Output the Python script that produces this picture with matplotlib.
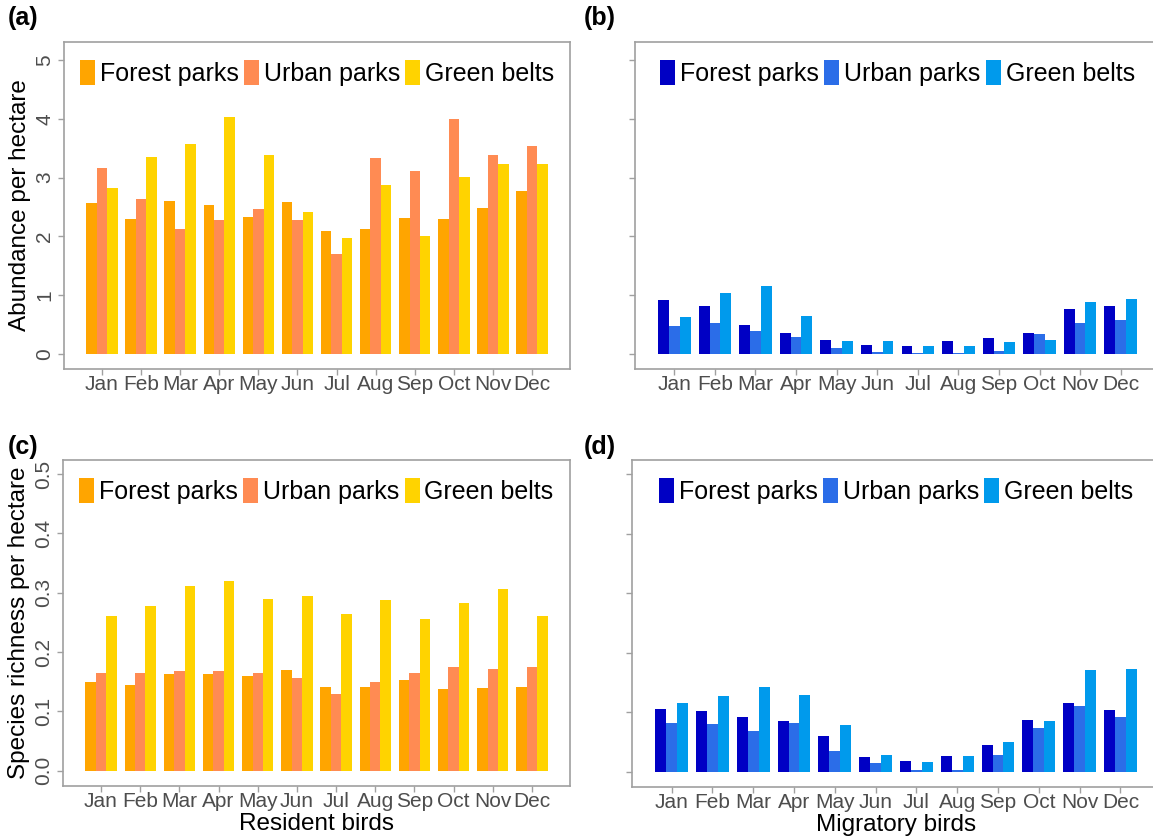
import matplotlib
matplotlib.use("Agg")
import matplotlib.pyplot as plt
import numpy as np

plt.rcParams['font.family'] = ['Liberation Sans', 'DejaVu Sans']

months = ["Jan", "Feb", "Mar", "Apr", "May", "Jun", "Jul", "Aug", "Sep", "Oct", "Nov", "Dec"]
sites = ["Forest parks", "Urban parks", "Green belts"]

# (a) Resident birds - abundance per hectare
res_abund_forest = [2.56, 2.30, 2.61, 2.53, 2.33, 2.59, 2.09, 2.12, 2.32, 2.29, 2.49, 2.78]
res_abund_urban = [3.16, 2.63, 2.13, 2.28, 2.46, 2.28, 1.70, 3.34, 3.11, 3.99, 3.38, 3.54]
res_abund_green = [2.83, 3.35, 3.58, 4.04, 3.39, 2.42, 1.97, 2.88, 2.00, 3.01, 3.24, 3.23]

# (b) Migratory birds - abundance per hectare
mig_abund_forest = [0.91, 0.81, 0.49, 0.36, 0.23, 0.15, 0.13, 0.21, 0.27, 0.36, 0.76, 0.81]
mig_abund_urban = [0.48, 0.52, 0.38, 0.29, 0.09, 0.03, 0.02, 0.005, 0.04, 0.34, 0.53, 0.58]
mig_abund_green = [0.62, 1.04, 1.16, 0.65, 0.21, 0.21, 0.13, 0.13, 0.20, 0.24, 0.88, 0.94]

# (c) Resident birds - species richness per hectare
res_rich_forest = [0.149, 0.144, 0.163, 0.163, 0.160, 0.169, 0.141, 0.141, 0.152, 0.138, 0.139, 0.141]
res_rich_urban = [0.165, 0.165, 0.168, 0.168, 0.165, 0.157, 0.130, 0.150, 0.165, 0.175, 0.172, 0.174]
res_rich_green = [0.260, 0.278, 0.311, 0.320, 0.289, 0.295, 0.264, 0.288, 0.255, 0.282, 0.307, 0.261]

# (d) Migratory birds - species richness per hectare
mig_rich_forest = [0.106, 0.102, 0.091, 0.085, 0.059, 0.025, 0.018, 0.026, 0.044, 0.087, 0.115, 0.104]
mig_rich_urban = [0.081, 0.080, 0.069, 0.081, 0.034, 0.015, 0.003, 0.003, 0.028, 0.073, 0.111, 0.092]
mig_rich_green = [0.116, 0.127, 0.142, 0.128, 0.078, 0.027, 0.016, 0.026, 0.050, 0.085, 0.170, 0.172]

warm_colors = ["#FFA500", "#FF8B53", "#FFD300"]
cool_colors = ["#0000C4", "#2B6DE8", "#009AEC"]

W, H = 1153, 836
fig = plt.figure(figsize=(W / 100, H / 100), dpi=100)


def ax_at(left, top, right, bottom):
    return fig.add_axes([left / W, 1 - bottom / H, (right - left) / W, (bottom - top) / H])


tick_grey = "#4D4D4D"
frame_grey = "#A0A0A0"


def panel(ax, series, colors, ylim, yticks, show_ylabels, ylabel=None, xlabel=None, ytickfmt=None):
    x = np.arange(len(months))
    bw = 0.8 / 3
    for i, (vals, c, name) in enumerate(zip(series, colors, sites)):
        ax.bar(x + (i - 1) * bw, vals, width=bw, color=c, label=name, linewidth=0)
    ax.set_xlim(-0.97, 11.97)
    ax.set_ylim(*ylim)
    ax.set_xticks(x)
    ax.set_xticklabels(months)
    ax.set_yticks(yticks)
    if show_ylabels:
        ax.set_yticklabels([ytickfmt(v) for v in yticks])
        plt.setp(ax.get_yticklabels(), rotation=90, va="center")
    else:
        ax.set_yticklabels([])
    for s in ax.spines.values():
        s.set_color(frame_grey)
        s.set_linewidth(1.2)
    ax.tick_params(axis="both", colors=frame_grey, labelcolor=tick_grey, labelsize=15,
                   length=4, width=1, direction="out", pad=3)
    ax.tick_params(axis="x", pad=0.5)
    if ylabel:
        ax.set_ylabel(ylabel, fontsize=17.5, color="black", labelpad=3)
    if xlabel:
        ax.set_xlabel(xlabel, fontsize=17.5, color="black")
        ax.xaxis.set_label_coords(0.5, -(830 - 786) / 326.0, transform=ax.transAxes)
        ax.xaxis.label.set_va("baseline")
    ax.legend(loc="upper center", ncol=3, frameon=False, fontsize=18,
              handlelength=0.6, handleheight=1.2, handletextpad=0.2,
              columnspacing=0.2, borderaxespad=0.3, bbox_to_anchor=(0.5, 1.0))
    return ax


ax_a = ax_at(64, 42, 570, 369)
panel(ax_a, [res_abund_forest, res_abund_urban, res_abund_green], warm_colors,
      (-0.26, 5.31), [0, 1, 2, 3, 4, 5], True, ylabel="Abundance per hectare",
      ytickfmt=lambda v: f"{v:d}")

ax_b = ax_at(635, 42, 1160, 369)
panel(ax_b, [mig_abund_forest, mig_abund_urban, mig_abund_green], cool_colors,
      (-0.26, 5.31), [0, 1, 2, 3, 4, 5], False)

ax_c = ax_at(63, 460, 570, 786)
panel(ax_c, [res_rich_forest, res_rich_urban, res_rich_green], warm_colors,
      (-0.026, 0.524), [0.0, 0.1, 0.2, 0.3, 0.4, 0.5], True,
      ylabel="Species richness per hectare", xlabel="Resident birds",
      ytickfmt=lambda v: f"{v:.1f}")

ax_d = ax_at(632, 460, 1160, 787)
panel(ax_d, [mig_rich_forest, mig_rich_urban, mig_rich_green], cool_colors,
      (-0.026, 0.524), [0.0, 0.1, 0.2, 0.3, 0.4, 0.5], False, xlabel="Migratory birds")

for lab, (px, py) in zip(["(a)", "(b)", "(c)", "(d)"], [(8, 18), (584, 18), (8, 447), (584, 447)]):
    fig.text(px / W, 1 - py / H, lab, fontsize=18, fontweight="bold", ha="left", va="center")

fig.savefig("out.png", dpi=100)
